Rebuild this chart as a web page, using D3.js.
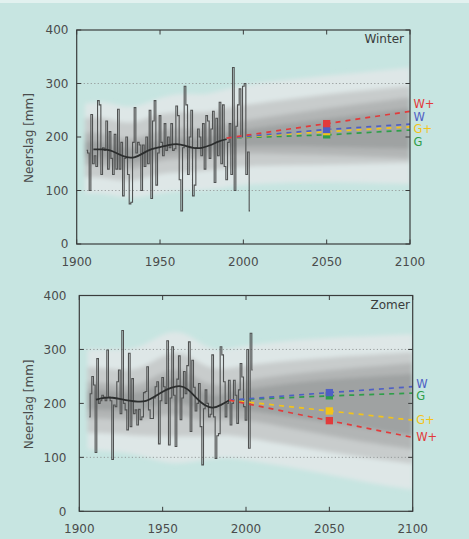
<!DOCTYPE html>
<html><head><meta charset="utf-8">
<script src="https://cdn.jsdelivr.net/npm/d3@7"></script>
<style>
html,body{margin:0;padding:0;background:#c7e5e1;}
svg{display:block;font-family:"DejaVu Sans",Verdana,sans-serif;}
</style>
</head><body>
<svg id="chart" width="469" height="539"></svg>
<script>
// ---------- data ----------
const xTicks = [1900, 1950, 2000, 2050, 2100];
const yTicks = [0, 100, 200, 300, 400];
const gridValues = [100, 300];
const yTitle = "Neerslag [mm]";
const scenarioNames = ["W+", "W", "G+", "G"];
const scenarioColors = ["#e23b3b", "#4f5fc4", "#f2c31a", "#2f9e4a"];
const scenarioYears = [1990, 2050, 2100];
const bandYears = [1905, 1915, 1925, 1935, 1945, 1955, 1965, 1975, 1985, 1995, 2020, 2050, 2075, 2100];

// Winter
const winterTitle = "Winter";
const winterStartYear = 1906;
const winterValues = [175,170,100,242,150,165,145,268,260,130,180,175,230,140,210,160,130,205,140,252,
  140,190,90,160,200,130,75,78,190,255,170,190,185,100,185,145,200,150,250,85,
  230,268,110,170,240,190,165,225,175,200,180,225,175,178,258,240,120,62,180,295,
  260,130,200,250,90,110,180,215,200,165,225,140,240,230,160,215,248,115,235,165,
  265,150,260,145,120,190,225,130,330,100,220,260,290,200,295,300,130,172,62];
const winterSmoothYears = [1910,1915,1920,1925,1930,1935,1940,1945,1950,1955,1960,1965,1970,1975,1980,1985,1990];
const winterSmoothValues = [177,177,176,168,161,161,170,178,181,185,188,184,179,179,184,192,196];
const winterScenarioBase = 198;
const winterScenario2050 = [225, 214, 210, 204];
const winterScenario2100 = [248, 224, 219, 213];
const winterOuterLow  = [95,95,88,85,92,98,100,100,103,110,114,116,114,112];
const winterOuterHigh = [262,268,258,255,268,278,282,278,285,295,305,315,322,330];
const winterMidLow    = [125,125,118,118,128,133,135,135,140,145,147,148,150,152];
const winterMidHigh   = [235,238,228,225,240,245,248,245,250,258,268,280,288,295];
const winterInnerLow  = [148,148,140,138,152,158,160,158,165,170,168,166,163,160];
const winterInnerHigh = [208,208,198,195,208,215,218,212,222,228,240,254,264,274];
const winterCoreLow   = [163,163,153,150,165,172,173,170,178,183,183,182,180,178];
const winterCoreHigh  = [192,192,180,178,192,198,200,195,205,212,222,234,244,254];

// Zomer
const summerTitle = "Zomer";
const summerStartYear = 1906;
const summerValues = [175,218,250,234,109,283,200,205,215,212,205,299,212,205,96,197,194,240,262,181,
  335,200,188,151,293,157,246,181,188,160,189,170,175,220,222,268,188,172,172,210,
  231,240,125,205,248,231,200,316,123,210,305,215,120,245,288,170,210,259,218,270,
  314,148,280,230,186,200,237,157,86,190,225,200,175,180,290,175,98,140,144,305,
  290,240,175,200,243,160,200,243,215,163,225,274,249,194,169,300,117,330,262];
const summerSmoothYears = [1910,1915,1920,1925,1930,1935,1940,1945,1950,1955,1960,1965,1970,1975,1980,1985,1990];
const summerSmoothValues = [207,211,211,208,205,203,203,212,222,229,234,228,210,196,190,197,206];
const summerScenarioBase = 206;
const summerScenario2050 = [168, 220, 186, 214];
const summerScenario2100 = [137, 231, 169, 219];
const summerOuterLow  = [115,112,110,105,95,88,90,95,100,98,85,68,52,40];
const summerOuterHigh = [300,300,300,302,320,335,330,305,298,305,315,322,325,328];
const summerMidLow    = [145,145,143,140,140,138,140,138,142,140,125,110,98,88];
const summerMidHigh   = [268,265,262,262,280,295,292,268,262,268,278,285,290,295];
const summerInnerLow  = [172,172,170,168,175,180,175,165,170,172,158,140,126,115];
const summerInnerHigh = [240,238,234,232,250,265,262,235,232,240,252,262,268,275];
const summerCoreLow   = [188,188,186,184,195,205,198,182,186,190,178,165,152,140];
const summerCoreHigh  = [225,225,220,218,232,248,245,215,215,225,235,245,250,255];

// ---------- drawing ----------
const svg = d3.select("#chart");
svg.append("rect").attr("x",0).attr("y",0).attr("width",469).attr("height",539).attr("fill","#c7e5e1");
svg.append("rect").attr("x",0).attr("y",0).attr("width",469).attr("height",3).attr("fill","#e2f1ef");

const defs = svg.append("defs");
defs.append("filter").attr("id","soft").attr("x","-5%").attr("y","-5%").attr("width","110%").attr("height","110%")
  .append("feGaussianBlur").attr("stdDeviation", 2.2);

const bandColors = ["#dee7e7", "#c8cccc", "#b2b5b5", "#9fa2a2"];

function drawPanel(cfg) {
  const {id, left, right, top, bottom, title, startYear, values, smoothYears, smoothValues,
         base, s2050, s2100, bands, yLabelRight, titleX} = cfg;
  const x = d3.scaleLinear().domain([1900, 2100]).range([left, right]);
  const y = d3.scaleLinear().domain([0, 400]).range([bottom, top]);
  const g = svg.append("g");

  defs.append("clipPath").attr("id", "clip" + id)
    .append("rect").attr("x", left).attr("y", top).attr("width", right - left).attr("height", bottom - top);

  const plot = g.append("g").attr("clip-path", `url(#clip${id})`);
  const bandG = plot.append("g").attr("filter", "url(#soft)");
  bands.forEach((b, i) => {
    const pts = bandYears.map((yr, k) => ({yr, lo: b[0][k], hi: b[1][k]}));
    const area = d3.area().x(d => x(d.yr)).y0(d => y(d.lo)).y1(d => y(d.hi)).curve(d3.curveBasis);
    bandG.append("path").datum(pts).attr("d", area).attr("fill", bandColors[i]);
  });

  // grid
  plot.selectAll(".grid").data(gridValues).enter().append("line")
    .attr("x1", left).attr("x2", right).attr("y1", d => y(d)).attr("y2", d => y(d))
    .attr("stroke", "#8f9494").attr("stroke-width", 0.9).attr("stroke-dasharray", "1.2,2.3");

  // step series
  const series = values.map((v, i) => ({yr: startYear + i, v}));
  const stepLine = d3.line().x(d => x(d.yr)).y(d => y(d.v)).curve(d3.curveStep);
  plot.append("path").datum(series).attr("d", stepLine)
    .attr("fill", "none").attr("stroke", "#505252").attr("stroke-width", 1.1);

  // smooth line
  const sm = smoothYears.map((yr, i) => ({yr, v: smoothValues[i]}));
  plot.append("path").datum(sm)
    .attr("d", d3.line().x(d => x(d.yr)).y(d => y(d.v)).curve(d3.curveBasis))
    .attr("fill", "none").attr("stroke", "#2b2d2d").attr("stroke-width", 1.8);

  // scenarios (draw from last to first so W+ is on top)
  const order = d3.range(scenarioNames.length).reverse();
  order.forEach(i => {
    const pts = [base, s2050[i], s2100[i]].map((v, k) => ({yr: scenarioYears[k], v}));
    plot.append("path").datum(pts)
      .attr("d", d3.line().x(d => x(d.yr)).y(d => y(d.v)))
      .attr("fill", "none").attr("stroke", scenarioColors[i]).attr("stroke-width", 1.7)
      .attr("stroke-dasharray", "5,5");
  });
  order.forEach(i => {
    const s = 7.3;
    plot.append("rect").attr("x", x(2050) - s / 2).attr("y", y(s2050[i]) - s / 2)
      .attr("width", s).attr("height", s).attr("fill", scenarioColors[i]);
  });

  // frame
  g.append("rect").attr("x", left).attr("y", top).attr("width", right - left).attr("height", bottom - top)
    .attr("fill", "none").attr("stroke", "#3a3c3c").attr("stroke-width", 1.2);

  // ticks (inward, all sides)
  const tl = 4.5;
  xTicks.forEach(t => {
    g.append("line").attr("x1", x(t)).attr("x2", x(t)).attr("y1", bottom).attr("y2", bottom - tl).attr("stroke", "#3a3c3c");
    g.append("line").attr("x1", x(t)).attr("x2", x(t)).attr("y1", top).attr("y2", top + tl).attr("stroke", "#3a3c3c");
  });
  yTicks.forEach(t => {
    g.append("line").attr("x1", left).attr("x2", left + tl).attr("y1", y(t)).attr("y2", y(t)).attr("stroke", "#3a3c3c");
    g.append("line").attr("x1", right).attr("x2", right - tl).attr("y1", y(t)).attr("y2", y(t)).attr("stroke", "#3a3c3c");
  });

  // tick labels
  g.selectAll(".xl").data(xTicks).enter().append("text")
    .attr("x", d => x(d)).attr("y", bottom + 22).attr("text-anchor", "middle")
    .attr("font-size", 12).attr("fill", "#4a4c4c").text(d => d);
  g.selectAll(".yl").data(yTicks).enter().append("text")
    .attr("x", yLabelRight).attr("y", d => y(d) + 4.3).attr("text-anchor", "end")
    .attr("font-size", 12).attr("fill", "#4a4c4c").text(d => d);

  // y title
  g.append("text").attr("transform", `translate(32.5,${(top + bottom) / 2 + 1}) rotate(-90)`)
    .attr("text-anchor", "middle").attr("font-size", 12).attr("fill", "#4a4c4c").text(yTitle);

  // panel title
  g.append("text").attr("x", titleX).attr("y", top + 13).attr("text-anchor", "end")
    .attr("font-size", 12).attr("fill", "#3a3c3c").text(title);

  // scenario labels with simple collision avoidance
  const labs = scenarioNames.map((n, i) => ({n, i, yy: y(s2100[i])}));
  labs.sort((a, b) => a.yy - b.yy);
  const gap = 12.6;
  for (let it = 0; it < 100; it++) {
    for (let k = 1; k < labs.length; k++) {
      const d = labs[k].yy - labs[k - 1].yy;
      if (d < gap) { const m = (gap - d) / 2; labs[k].yy += m; labs[k - 1].yy -= m; }
    }
  }
  labs.forEach(l => {
    g.append("text").attr("x", right + 3.5).attr("y", l.yy + 4)
      .attr("font-size", 11.5).attr("fill", scenarioColors[l.i]).text(l.n);
  });
}

drawPanel({
  id: "w", left: 76.7, right: 410, top: 30, bottom: 244, title: winterTitle, titleX: 404,
  startYear: winterStartYear, values: winterValues,
  smoothYears: winterSmoothYears, smoothValues: winterSmoothValues,
  base: winterScenarioBase, s2050: winterScenario2050, s2100: winterScenario2100,
  bands: [[winterOuterLow, winterOuterHigh], [winterMidLow, winterMidHigh],
          [winterInnerLow, winterInnerHigh], [winterCoreLow, winterCoreHigh]],
  yLabelRight: 68.5
});
drawPanel({
  id: "s", left: 79.3, right: 412.7, top: 295.5, bottom: 511.3, title: summerTitle, titleX: 410,
  startYear: summerStartYear, values: summerValues,
  smoothYears: summerSmoothYears, smoothValues: summerSmoothValues,
  base: summerScenarioBase, s2050: summerScenario2050, s2100: summerScenario2100,
  bands: [[summerOuterLow, summerOuterHigh], [summerMidLow, summerMidHigh],
          [summerInnerLow, summerInnerHigh], [summerCoreLow, summerCoreHigh]],
  yLabelRight: 66.5
});
</script>
</body></html>
